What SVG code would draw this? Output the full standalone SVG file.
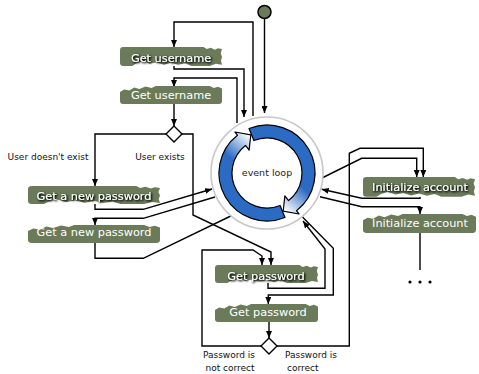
<svg xmlns="http://www.w3.org/2000/svg" xmlns:xlink="http://www.w3.org/1999/xlink" width="479" height="374" viewBox="0 0 479 374">
  <style>
    .edge { fill: none; stroke: #000; stroke-width: 1.4; stroke-linejoin: miter; }
    .arrow { marker-end: url(#head); }
    .node { fill: #6b7b5a; }
    .ntext { font-family: "DejaVu Sans", sans-serif; font-size: 11.3px; fill: #fff; text-anchor: middle; }
    .shadowed { filter: url(#txtShadow); }
    .label { font-family: "DejaVu Sans", sans-serif; font-size: 9px; fill: #111; }
  </style>
  <defs>
    <marker id="head" markerUnits="userSpaceOnUse" markerWidth="8" markerHeight="6" refX="7" refY="3" orient="auto">
      <path d="M0,0 L7,3 L0,6 Z" fill="#000"/>
    </marker>
    <filter id="txtShadow" x="-10%" y="-50%" width="120%" height="200%">
      <feGaussianBlur in="SourceAlpha" stdDeviation="1.1"/>
      <feOffset dx="0.6" dy="0.6" result="blur"/>
      <feComponentTransfer><feFuncA type="linear" slope="1.6"/></feComponentTransfer>
      <feMerge><feMergeNode/><feMergeNode in="SourceGraphic"/></feMerge>
    </filter>
    <!-- torn-edge activity shapes, unit size 100 x 18 -->
    <path id="tornA" d="M3,0 H82 L85,2 L89,0.8 L93,2.6 L96,1.2 L100,2 L98.8,6 L100,9.5 L99,13 L100,17 L94,16 L88,18 L70,18 L64,15.5 L57,17 L50,15 L43,16.8 L36,14.5 L29,16 L22,13.5 L16,15.5 L12,18 H3 Q0,18 0,15 V3 Q0,0 3,0 Z"/>
    <path id="tornB" d="M0,6 L4,3.5 L9,4.5 L14,1.5 L19,3 L25,0.5 L31,2 L35,0 H88 L92,2 L96,0.8 L100,2.5 V15 Q100,18 97,18 H3 Q0,18 0,15 Z"/>
    <linearGradient id="ringShade" gradientUnits="userSpaceOnUse" x1="250" y1="136" x2="231" y2="158">
      <stop offset="0" stop-color="#ffffff"/>
      <stop offset="1" stop-color="#2c6bc4"/>
    </linearGradient>
    <!-- one half of the circular event-loop arrow -->
    <path id="loopHalf" d="M284.98,217.51 A48,48 0 0 1 237.45,135.17 L234.98,132.02 L250.79,134.8 L249.14,150.15 L245.45,145.42 A35,35 0 0 0 280.11,205.45 Z" fill="url(#ringShade)" stroke="#000" stroke-width="1.2" stroke-linejoin="round"/>
  </defs>

  <g id="connectors">
    <path class="edge arrow" d="M264.5,18.5 V113"/>
    <path class="edge arrow" d="M253,116 V22 H174 V47"/>
    <path class="edge arrow" d="M174,66 V69 H244 V117"/>
    <path class="edge arrow" d="M237,123 V78 H174 V87"/>
    <path class="edge arrow" d="M174,104 V126"/>
    <path class="edge arrow" d="M166,134 H95 V186"/>
    <path class="edge arrow" d="M182,134 H193 V215 L271,252 V265"/>
    <path class="edge arrow" d="M95,204 V209.3 H143.3 L212,189"/>
    <path class="edge arrow" d="M215,197 L143.3,218.3 H95 V225"/>
    <path class="edge" d="M95,243 V258.3 H143.3 L237,213"/>
    <path class="edge arrow" d="M268,283 V288.3 H325 V249 L303,221"/>
    <path class="edge arrow" d="M302,216.5 L333.3,248.3 V295 H268.3 V304"/>
    <path class="edge arrow" d="M269,322 V338"/>
    <path class="edge arrow" d="M261,346 H202 V250 H253 L262,256 V265"/>
    <path class="edge arrow" d="M277,346 H349.3 V153.3 L360,148.3 H423.3 V177"/>
    <path class="edge arrow" d="M322,178 L361.7,158.3 H416.7 V177"/>
    <path class="edge arrow" d="M420,197 V198.3 H361.7 L321.7,189.3"/>
    <path class="edge arrow" d="M320,196.7 L361.7,206.7 H420 V214"/>
    <path class="edge" d="M420,233 V270"/>
  </g>

  <g id="start">
    <circle cx="264.5" cy="12" r="6.5" fill="#6b7b5a" stroke="#000" stroke-width="1.5"/>
  </g>

  <g id="event-loop">
    <circle cx="267" cy="173" r="56" fill="#fff" stroke="#c8c8c8" stroke-width="1.6"/>
    <use xlink:href="#loopHalf"/>
    <use xlink:href="#loopHalf" transform="rotate(180 267 173)"/>
    <text x="267" y="176" font-family="DejaVu Sans, sans-serif" font-size="9.5px" fill="#222" text-anchor="middle">event loop</text>
  </g>

  <g id="get-username-1">
    <use xlink:href="#tornA" class="node" transform="translate(120,47) scale(1.02,1.05)"/>
    <text class="ntext shadowed" x="171" y="62">Get username</text>
  </g>
  <g id="get-username-2">
    <use xlink:href="#tornB" class="node" transform="translate(120,86) scale(1.02,1)"/>
    <text class="ntext" x="171" y="99">Get username</text>
  </g>

  <g id="decision-user">
    <path d="M174,126 L182,134 L174,142 L166,134 Z" fill="#fff" stroke="#000" stroke-width="1.4"/>
  </g>

  <g id="get-new-password-1">
    <use xlink:href="#tornA" class="node" transform="translate(28,186) scale(1.32,1)"/>
    <text class="ntext shadowed" x="94" y="200">Get a new password</text>
  </g>
  <g id="get-new-password-2">
    <use xlink:href="#tornB" class="node" transform="translate(28,225) scale(1.32,1)"/>
    <text class="ntext" x="94" y="236">Get a new password</text>
  </g>

  <g id="get-password-1">
    <use xlink:href="#tornA" class="node" transform="translate(215,265) scale(1.03,1)"/>
    <text class="ntext shadowed" x="266" y="280">Get password</text>
  </g>
  <g id="get-password-2">
    <use xlink:href="#tornB" class="node" transform="translate(215,304) scale(1.03,1)"/>
    <text class="ntext" x="268" y="316">Get password</text>
  </g>

  <g id="decision-password">
    <path d="M269,338 L277,346 L269,354 L261,346 Z" fill="#fff" stroke="#000" stroke-width="1.4"/>
  </g>

  <g id="init-account-1">
    <use xlink:href="#tornA" class="node" transform="translate(363,177) scale(1.12,1.1)"/>
    <text class="ntext shadowed" x="420" y="191">Initialize account</text>
  </g>
  <g id="init-account-2">
    <use xlink:href="#tornB" class="node" transform="translate(363,214) scale(1.13,1.05)"/>
    <text class="ntext" x="420" y="227">Initialize account</text>
  </g>

  <g id="more">
    <circle cx="410" cy="282" r="1.6" fill="#000"/>
    <circle cx="420" cy="282" r="1.6" fill="#000"/>
    <circle cx="430" cy="282" r="1.6" fill="#000"/>
  </g>

  <g id="labels">
    <text class="label" x="48" y="160" text-anchor="middle">User doesn't exist</text>
    <text class="label" x="160" y="160" text-anchor="middle">User exists</text>
    <text class="label" x="229" y="358" text-anchor="middle">Password is</text>
    <text class="label" x="230" y="371" text-anchor="middle">not correct</text>
    <text class="label" x="311" y="358" text-anchor="middle">Password is</text>
    <text class="label" x="287" y="371">correct</text>
  </g>
</svg>
